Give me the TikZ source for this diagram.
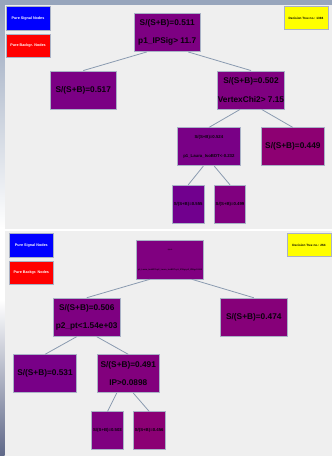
\documentclass[tikz,border=0pt]{standalone}
\usepackage{fontspec}
\setmainfont{Liberation Sans}
\usepackage{graphicx}
\definecolor{panel}{HTML}{EFEFEF}
\definecolor{band}{HTML}{97A5BC}
\definecolor{edgec}{HTML}{8A9AB0}
\definecolor{bordc}{HTML}{A9B2C6}
\definecolor{txt}{HTML}{0A000C}
\definecolor{dtyellow}{HTML}{FFFF00}
\tikzset{
  box/.style={draw=bordc, line width=0.7pt, inner sep=0pt, align=center, text=txt},
  big/.style={box, font=\fontsize{8.3}{18.6}\selectfont\bfseries},
  small/.style={box, font=\fontsize{4.3}{19}\selectfont\bfseries},
  legsig/.style={box, fill=blue, text=white, font=\fontsize{3.7}{4}\selectfont\bfseries, minimum width=44, minimum height=23.3},
  legbkg/.style={box, fill=red, text=white, font=\fontsize{3.7}{4}\selectfont\bfseries, minimum width=44, minimum height=23},
  dtbox/.style={box, fill=dtyellow, text=black, font=\fontsize{3.1}{4}\selectfont\bfseries, minimum width=44, minimum height=23},
  wide/.style={minimum width=66.7, minimum height=38.2},
  mid/.style={minimum width=62.8, minimum height=38},
  narrow/.style={minimum width=31.6, minimum height=38},
  link/.style={draw=edgec, line width=0.8pt},
}
\begin{document}
\begin{tikzpicture}[x=1pt,y=-1pt]
\useasboundingbox (0,0) rectangle (332,456);
% background
\fill[white] (0,0) rectangle (332,456);
\fill[band] (0,0) rectangle (332,4.5);
\shade[top color=band, bottom color=white] (0,4.5) rectangle (4.5,228);
\shade[top color=white, bottom color=band!90!blue!70!black] (0,300) rectangle (4.5,456);
\fill[panel] (4.5,4.5) rectangle (332,229);
\fill[panel] (4.5,231.3) rectangle (332,455.7);

% ---------- top tree ----------
\node[legsig] (sig1) at (28,18.3) {Pure Signal Nodes};
\node[legbkg] (bkg1) at (28,45.5) {Pure Backgr. Nodes};
\node[dtbox] (dt1) at (306,18) {Decision Tree no.: 1394};

\node[big, wide, fill=blue!51.1!red] (r1) at (167.2,32.5) {S/(S+B)=0.511\\p1\_IPSig> 11.7};
\node[big, wide, fill=blue!51.7!red] (a1) at (83.3,90) {S/(S+B)=0.517};
\node[big, wide, fill=blue!50.2!red] (b1) at (251,90) {S/(S+B)=0.502\\VertexChi2> 7.15};
\node[small, mid, fill=blue!52.4!red] (c1) at (208.9,146.8) {S/(S+B)=0.524\\p1\_Laura\_IsoBDT<-0.232};
\node[big, mid, fill=blue!44.9!red] (d1) at (292.9,146.8) {S/(S+B)=0.449};
\node[small, narrow, fill=blue!55.5!red] (e1) at (188.2,204.2) {S/(S+B)=0.555};
\node[small, narrow, fill=blue!49.9!red] (f1) at (230,204.2) {S/(S+B)=0.499};

\draw[link] ([xshift=-20.5pt]r1.south) -- (a1.north);
\draw[link] ([xshift=21pt]r1.south) -- (b1.north);
\draw[link] ([xshift=-11pt]b1.south) -- (c1.north);
\draw[link] ([xshift=10.7pt]b1.south) -- (d1.north);
\draw[link] ([xshift=-5.6pt]c1.south) -- (e1.north);
\draw[link] ([xshift=5.4pt]c1.south) -- (f1.north);

% ---------- bottom tree ----------
\node[legsig] (sig2) at (31.3,245.3) {Pure Signal Nodes};
\node[legbkg] (bkg2) at (31.3,272.5) {Pure Backgr. Nodes};
\node[dtbox] (dt2) at (309,245) {Decision Tree no.: 264};

\node[box, wide, fill=blue!50!red] (r2) at (170,259.8) {};
\node[inner sep=0pt, text=txt, font=\bfseries] (r2a) at ([yshift=9.5pt]r2.center) {\resizebox{4.5pt}{1.2pt}{S/(S+B)=0.500}};
\node[inner sep=0pt, text=txt, font=\bfseries] (r2b) at ([yshift=-9.9pt]r2.center) {\resizebox{64pt}{1.5pt}{p1\_Laura\_IsoBDT+p2\_Laura\_IsoBDT+p1\_IPSig+p2\_IPSig<0.000}};
\node[big, wide, fill=blue!50.6!red] (a2) at (86.7,317.2) {S/(S+B)=0.506\\p2\_pt<1.54e+03};
\node[big, wide, fill=blue!47.4!red] (b2) at (253.8,317.2) {S/(S+B)=0.474};
\node[big, mid, fill=blue!53.1!red] (c2) at (45,373.7) {S/(S+B)=0.531};
\node[big, mid, fill=blue!49.1!red] (d2) at (128.3,373.7) {S/(S+B)=0.491\\IP>0.0898};
\node[small, narrow, fill=blue!50.3!red] (e2) at (107.5,430.8) {S/(S+B)=0.503};
\node[small, narrow, fill=blue!45.6!red] (f2) at (149.2,430.8) {S/(S+B)=0.456};

\draw[link] ([xshift=-20pt]r2.south) -- (a2.north);
\draw[link] ([xshift=21.7pt]r2.south) -- (b2.north);
\draw[link] ([xshift=-10pt]a2.south) -- (c2.north);
\draw[link] ([xshift=10pt]a2.south) -- (d2.north);
\draw[link] ([xshift=-11.6pt]d2.south) -- (e2.north);
\draw[link] ([xshift=5pt]d2.south) -- (f2.north);
\end{tikzpicture}
\end{document}
